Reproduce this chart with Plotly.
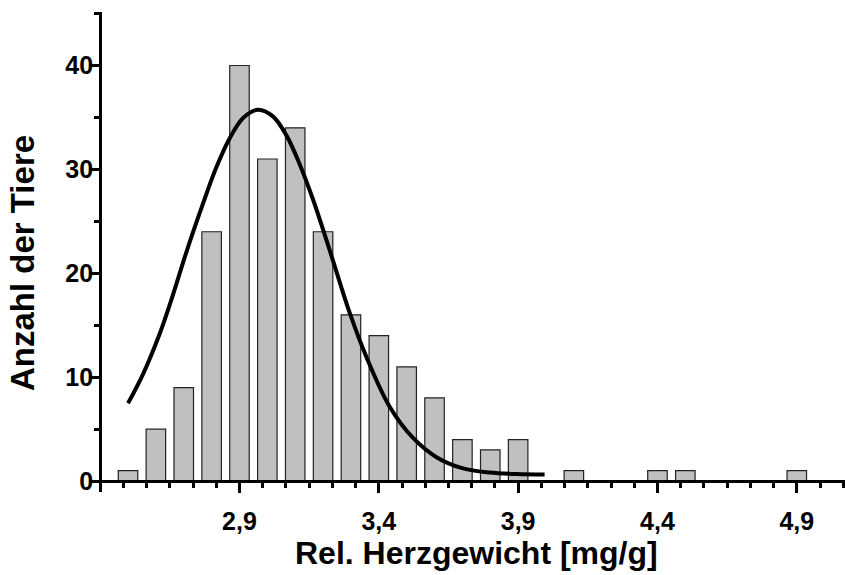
import plotly.graph_objects as go

# Histogram data
bin_centers = [2.5, 2.6, 2.7, 2.8, 2.9, 3.0, 3.1, 3.2, 3.3, 3.4, 3.5, 3.6, 3.7, 3.8, 3.9, 4.1, 4.4, 4.5, 4.9]
counts = [1, 5, 9, 24, 40, 31, 34, 24, 16, 14, 11, 8, 4, 3, 4, 1, 1, 1, 1]

# Fitted curve
curve_x = [2.50, 2.554, 2.614, 2.661, 2.709, 2.769, 2.817, 2.865, 2.913, 2.966, 3.020, 3.068,
           3.116, 3.164, 3.224, 3.296, 3.355, 3.439, 3.523, 3.607, 3.702, 3.798, 3.894, 3.995]
curve_y = [7.49, 10.3, 14.2, 17.9, 22.0, 26.7, 30.2, 33.0, 34.95, 35.74, 35.1, 33.3,
           30.5, 27.1, 22.2, 16.16, 11.98, 7.16, 4.15, 2.3, 1.22, 0.82, 0.68, 0.63]

# Axis settings
x_tickvals = [2.9, 3.4, 3.9, 4.4, 4.9]
x_ticktext = ["2,9", "3,4", "3,9", "4,4", "4,9"]
y_tickvals = [0, 10, 20, 30, 40]
x_range = [2.36, 5.073]
y_range = [-1.05, 45.15]
x_axis_cross = 2.4   # y axis sits at this x value
y_axis_cross = 0.0   # x axis sits at this y value

font_family = "Liberation Sans, Arial, sans-serif"

fig = go.Figure()
fig.add_trace(go.Bar(
    x=bin_centers, y=counts, width=0.07,
    marker=dict(color="#c0c0c0", line=dict(color="#222222", width=1.2)),
    showlegend=False,
))
fig.add_trace(go.Scatter(
    x=curve_x, y=curve_y, mode="lines",
    line=dict(color="black", width=4, shape="spline", smoothing=1.0),
    showlegend=False,
))

xpos = (y_axis_cross - y_range[0]) / (y_range[1] - y_range[0])
ypos = (x_axis_cross - x_range[0]) / (x_range[1] - x_range[0])

fig.update_layout(
    width=845, height=575,
    margin=dict(l=89, r=0, t=12, b=83),
    paper_bgcolor="white", plot_bgcolor="white",
    font=dict(family=font_family, color="black"),
    xaxis=dict(
        range=x_range, anchor="free", position=xpos,
        showline=True, linecolor="black", linewidth=3,
        showgrid=False, zeroline=False,
        tickmode="array", tickvals=x_tickvals, ticktext=["<b>%s</b>" % t for t in x_ticktext],
        ticks="outside", ticklen=10, tickwidth=3, tickcolor="black",
        tickfont=dict(size=25, family=font_family),
        ticklabelstandoff=7,
        minor=dict(tickmode="linear", tick0=2.4, dtick=0.5 / 6, ticks="outside",
                   ticklen=5, tickwidth=3, tickcolor="black", showgrid=False),
    ),
    yaxis=dict(
        range=y_range, anchor="free", position=ypos,
        showline=True, linecolor="black", linewidth=3,
        showgrid=False, zeroline=False,
        tickmode="array", tickvals=y_tickvals,
        ticktext=["<b>%d</b>" % v for v in y_tickvals],
        ticks="outside", ticklen=10, tickwidth=3, tickcolor="black",
        tickfont=dict(size=25, family=font_family),
        ticklabelstandoff=-9,
        minor=dict(tickmode="linear", tick0=0, dtick=5, ticks="outside",
                   ticklen=5, tickwidth=3, tickcolor="black", showgrid=False),
    ),
    annotations=[
        dict(text="<b>Rel. Herzgewicht [mg/g]</b>", xref="paper", yref="paper",
             x=0.513, y=-0.127, xanchor="center", yanchor="middle", showarrow=False,
             font=dict(size=32, family=font_family, color="black")),
        dict(text="<b>Anzahl der Tiere</b>", xref="paper", yref="paper",
             x=-0.0886, y=0.477, xanchor="center", yanchor="middle", showarrow=False,
             textangle=-90,
             font=dict(size=33, family=font_family, color="black")),
    ],
)

fig.write_html("out.html")
